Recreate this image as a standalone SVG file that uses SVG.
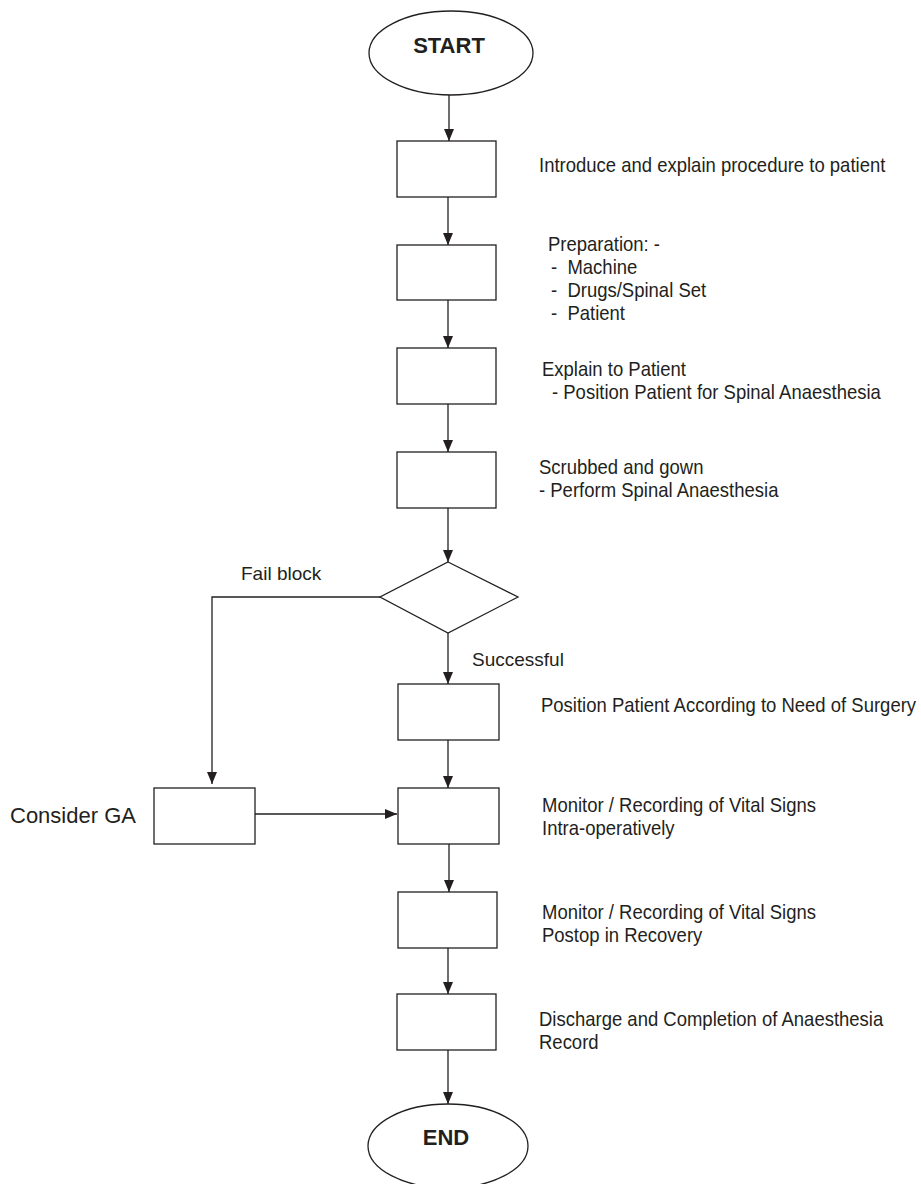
<svg xmlns="http://www.w3.org/2000/svg" width="921" height="1184" viewBox="0 0 921 1184">
  <style>
    .shape { fill: #ffffff; stroke: #231f20; stroke-width: 1.3; }
    .conn { fill: none; stroke: #231f20; stroke-width: 1.3; }
    .lbl { font-family: "Liberation Sans", Arial, sans-serif; font-size: 19px; fill: #231f20; }
    .note { font-family: "Liberation Sans", Arial, sans-serif; font-size: 20px; fill: #231f20; white-space: pre; }
    .term { font-family: "Liberation Sans", Arial, sans-serif; font-size: 22px; font-weight: bold; fill: #231f20; text-anchor: middle; }
    .big { font-family: "Liberation Sans", Arial, sans-serif; font-size: 22px; fill: #231f20; }
  </style>
  <defs>
    <marker id="arrow" markerUnits="userSpaceOnUse" markerWidth="12" markerHeight="12" viewBox="0 0 12 10" refX="12" refY="5" orient="auto">
      <path d="M0,0 L12,5 L0,10 Z" fill="#231f20"/>
    </marker>
  </defs>
  <rect width="921" height="1184" fill="#ffffff"/>

  <!-- connectors -->
  <g id="connectors">
    <line class="conn" x1="449" y1="95" x2="449" y2="141" marker-end="url(#arrow)"/>
    <line class="conn" x1="448" y1="197" x2="448" y2="245" marker-end="url(#arrow)"/>
    <line class="conn" x1="448" y1="300" x2="448" y2="348" marker-end="url(#arrow)"/>
    <line class="conn" x1="448" y1="404" x2="448" y2="452" marker-end="url(#arrow)"/>
    <line class="conn" x1="448" y1="508" x2="448" y2="562" marker-end="url(#arrow)"/>
    <line class="conn" x1="448" y1="633" x2="448" y2="684" marker-end="url(#arrow)"/>
    <line class="conn" x1="448" y1="740" x2="448" y2="788" marker-end="url(#arrow)"/>
    <line class="conn" x1="449" y1="844" x2="449" y2="892" marker-end="url(#arrow)"/>
    <line class="conn" x1="448" y1="948" x2="448" y2="994" marker-end="url(#arrow)"/>
    <line class="conn" x1="448" y1="1050" x2="448" y2="1104" marker-end="url(#arrow)"/>
    <!-- fail branch to GA -->
    <polyline class="conn" points="380,597 212,597 212,784" marker-end="url(#arrow)"/>
    <!-- GA back to monitoring -->
    <line class="conn" x1="254" y1="814" x2="397" y2="814" marker-end="url(#arrow)"/>
    <text class="lbl" x="241" y="580">Fail block</text>
    <text class="lbl" x="472" y="666">Successful</text>
  </g>

  <g id="start">
    <ellipse class="shape" cx="451" cy="53" rx="82" ry="42"/>
    <text class="term" x="449" y="53">START</text>
  </g>

  <g id="step-introduce">
    <rect class="shape" x="397" y="141" width="99" height="56"/>
    <text class="note" transform="translate(539 172) scale(0.925 1)">Introduce and explain procedure to patient</text>
  </g>

  <g id="step-preparation">
    <rect class="shape" x="397" y="245" width="99" height="55"/>
    <text class="note" transform="translate(548 251) scale(0.925 1)">Preparation: -</text>
    <text class="note" xml:space="preserve" transform="translate(551 274) scale(0.925 1)">-  Machine</text>
    <text class="note" xml:space="preserve" transform="translate(551 297) scale(0.925 1)">-  Drugs/Spinal Set</text>
    <text class="note" xml:space="preserve" transform="translate(551 320) scale(0.925 1)">-  Patient</text>
  </g>

  <g id="step-explain">
    <rect class="shape" x="397" y="348" width="99" height="56"/>
    <text class="note" transform="translate(542 376) scale(0.925 1)">Explain to Patient</text>
    <text class="note" transform="translate(552 399) scale(0.925 1)">- Position Patient for Spinal Anaesthesia</text>
  </g>

  <g id="step-spinal">
    <rect class="shape" x="397" y="452" width="99" height="56"/>
    <text class="note" transform="translate(539 474) scale(0.925 1)">Scrubbed and gown</text>
    <text class="note" transform="translate(539 497) scale(0.925 1)">- Perform Spinal Anaesthesia</text>
  </g>

  <g id="decision">
    <polygon class="shape" points="448,562 518,597 448,633 380,597"/>
  </g>

  <g id="step-position">
    <rect class="shape" x="398" y="684" width="101" height="56"/>
    <text class="note" transform="translate(541 712) scale(0.925 1)">Position Patient According to Need of Surgery</text>
  </g>

  <g id="step-ga">
    <rect class="shape" x="154" y="788" width="101" height="56"/>
    <text class="big" x="10" y="823">Consider GA</text>
  </g>

  <g id="step-monitor-intra">
    <rect class="shape" x="398" y="788" width="101" height="56"/>
    <text class="note" transform="translate(542 812) scale(0.925 1)">Monitor / Recording of Vital Signs</text>
    <text class="note" transform="translate(542 835) scale(0.925 1)">Intra-operatively</text>
  </g>

  <g id="step-monitor-postop">
    <rect class="shape" x="398" y="892" width="99" height="56"/>
    <text class="note" transform="translate(542 919) scale(0.925 1)">Monitor / Recording of Vital Signs</text>
    <text class="note" transform="translate(542 942) scale(0.925 1)">Postop in Recovery</text>
  </g>

  <g id="step-discharge">
    <rect class="shape" x="397" y="994" width="99" height="56"/>
    <text class="note" transform="translate(539 1026) scale(0.925 1)">Discharge and Completion of Anaesthesia</text>
    <text class="note" transform="translate(539 1049) scale(0.925 1)">Record</text>
  </g>

  <g id="end">
    <ellipse class="shape" cx="448" cy="1146" rx="80" ry="42"/>
    <text class="term" x="446" y="1145">END</text>
  </g>
</svg>
